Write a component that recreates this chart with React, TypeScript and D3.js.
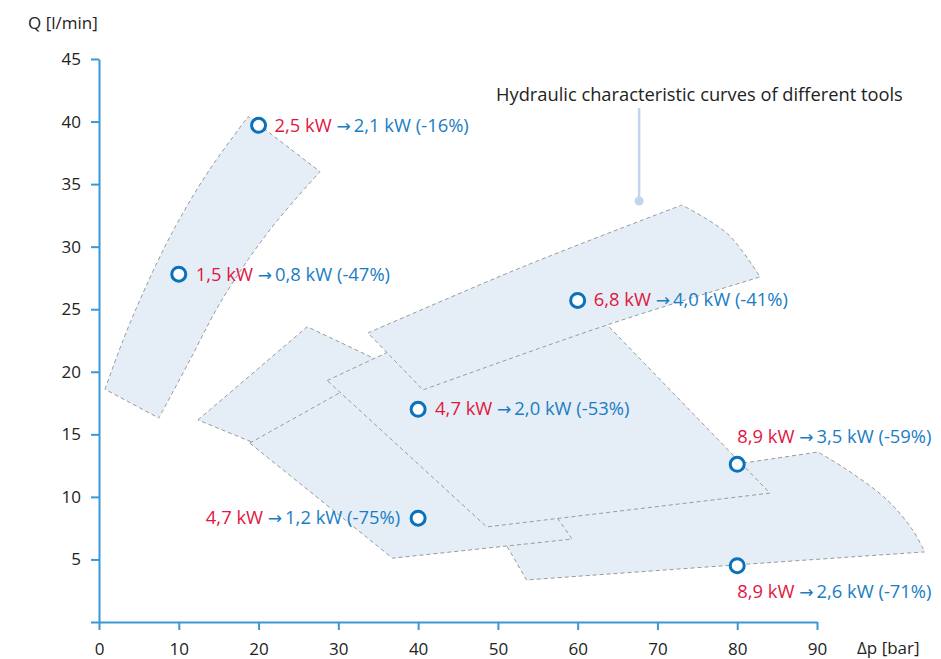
import React, { useEffect, useRef } from 'react';
import * as d3 from 'd3';

type Pt = [number, number];

const xTicks = [0, 10, 20, 30, 40, 50, 60, 70, 80, 90];
const yTicks = [0, 5, 10, 15, 20, 25, 30, 35, 40, 45];

// tool envelopes in [dp bar, Q l/min], each as a list of edges
const toolSmall: Pt[][] = [
  [[0.75, 18.6], [3, 22.5], [5.8, 26.7], [9.4, 31.4], [13.8, 36.1], [18.7, 40.4]],
  [[18.7, 40.4], [27.7, 36.0]],
  [[27.7, 36.0], [21.4, 31.33], [15.4, 25.74], [11.4, 20.94], [7.5, 16.3]],
  [[7.5, 16.3], [0.75, 18.6]],
];
const toolLarge: Pt[][] = [
  [[47.75, 9.75], [79.95, 12.63], [90.1, 13.59]],
  [[90.1, 13.59], [93.8, 12.15], [98.8, 9.75], [102.0, 7.35], [103.5, 5.6]],
  [[103.5, 5.6], [79.8, 4.56], [53.6, 3.36]],
  [[53.6, 3.36], [47.75, 9.75]],
];
const toolB: Pt[][] = [
  [[12.4, 16.15], [26.1, 23.6]],
  [[26.1, 23.6], [37.7, 20.1]],
  [[37.7, 20.1], [27.7, 12.15]],
  [[27.7, 12.15], [12.4, 16.15]],
];
const toolE: Pt[][] = [
  [[18.9, 14.3], [41.9, 22.5]],
  [[41.9, 22.5], [59.3, 6.63]],
  [[59.3, 6.63], [36.8, 5.1]],
  [[36.8, 5.1], [18.9, 14.3]],
];
const toolC: Pt[][] = [
  [[28.6, 19.3], [57.4, 27.9]],
  [[57.4, 27.9], [84.1, 10.3]],
  [[84.1, 10.3], [48.6, 7.6]],
  [[48.6, 7.6], [28.6, 19.3]],
];
const toolD: Pt[][] = [
  [[33.71, 23.1], [53.4, 28.46], [73.07, 33.33]],
  [[73.07, 33.33], [78.83, 31.0], [82.85, 27.58]],
  [[82.85, 27.58], [63.68, 23.74], [40.61, 18.55]],
  [[40.61, 18.55], [33.71, 23.1]],
];
// drawing order matters, later ones cover earlier outlines
const tools = [toolSmall, toolLarge, toolB, toolE, toolC, toolD];

// operating points
const pointDp = [20, 10, 60, 40, 40, 80, 80];
const pointQ = [39.7, 27.8, 25.7, 17.0, 8.3, 12.6, 4.5];
const powerBefore = ['2,5 kW', '1,5 kW', '6,8 kW', '4,7 kW', '4,7 kW', '8,9 kW', '8,9 kW'];
const powerAfter = ['2,1 kW (-16%)', '0,8 kW (-47%)', '4,0 kW (-41%)', '2,0 kW (-53%)', '1,2 kW (-75%)', '3,5 kW (-59%)', '2,6 kW (-71%)'];
// label placement relative to the marker: dx, dy, anchor
const labelPlace: [number, number, string][] = [
  [16, 7, 'start'], [17, 7, 'start'], [16, 6, 'start'], [17, 6, 'start'],
  [-18, 6, 'end'], [0, -21, 'start'], [0, 32, 'start'],
];

const FONT = '"Open Sans", sans-serif';
const RED = '#e0173f';
const BLUE = '#1a7dc2';
const AXIS = '#3b98d6';

export default function App() {
  const svgRef = useRef<SVGSVGElement>(null);

  useEffect(() => {
    if (!svgRef.current) return;
    const svg = d3.select(svgRef.current);
    svg.selectAll('*').remove();

    const x = d3.scaleLinear().domain([0, 90]).range([99, 817]);
    const y = d3.scaleLinear().domain([0, 45]).range([622, 59]);

    // envelopes
    const edgeLine = d3.line<Pt>().x(d => x(d[0])).y(d => y(d[1])).curve(d3.curveCatmullRom);
    const shapePath = (edges: Pt[][]) =>
      edges.map((e, i) => {
        const p = edgeLine(e) || '';
        return i === 0 ? p : 'L' + p.slice(1);
      }).join('') + 'Z';

    svg.append('g').selectAll('path')
      .data(tools)
      .enter().append('path')
      .attr('d', d => shapePath(d))
      .attr('fill', '#e5eef7')
      .attr('stroke', '#9a9a9a')
      .attr('stroke-width', 1)
      .attr('stroke-dasharray', '4 3');

    // axes
    const yAxis = svg.append('g').attr('transform', `translate(${x(0)},0)`)
      .call(d3.axisLeft(y).tickValues(yTicks).tickSize(8).tickSizeOuter(0).tickPadding(10)
        .tickFormat(d => (d === 0 ? '' : String(d))));
    const xAxis = svg.append('g').attr('transform', `translate(0,${y(0)})`)
      .call(d3.axisBottom(x).tickValues(xTicks).tickSize(8).tickSizeOuter(0).tickPadding(13)
        .tickFormat(d => String(d)));
    [yAxis, xAxis].forEach(a => {
      a.select('.domain').attr('stroke', AXIS).attr('stroke-width', 2);
      a.selectAll('.tick line').attr('stroke', AXIS).attr('stroke-width', 2);
      a.selectAll('.tick text').attr('fill', '#222').style('font-family', FONT).style('font-size', '17px');
    });

    svg.append('text').attr('x', 28).attr('y', 29).text('Q [l/min]')
      .attr('fill', '#222').style('font-family', FONT).style('font-size', '17px');
    svg.append('text').attr('x', 857).attr('y', 654).text('\u0394p [bar]')
      .attr('fill', '#222').style('font-family', FONT).style('font-size', '17px');

    // annotation
    const ax = x(67.7);
    svg.append('line').attr('x1', ax).attr('x2', ax).attr('y1', 108).attr('y2', 200)
      .attr('stroke', '#c3d4ee').attr('stroke-width', 2.5);
    svg.append('circle').attr('cx', ax).attr('cy', 201).attr('r', 4.5).attr('fill', '#c3d4ee');
    svg.append('text').attr('x', 496).attr('y', 101)
      .text('Hydraulic characteristic curves of different tools')
      .attr('fill', '#222').style('font-family', FONT).style('font-size', '18.3px');

    // operating points
    const pts = pointDp.map((dp, i) => ({ dp, q: pointQ[i], i }));
    svg.append('g').selectAll('circle')
      .data(pts)
      .enter().append('circle')
      .attr('cx', d => x(d.dp)).attr('cy', d => y(d.q)).attr('r', 7)
      .attr('fill', '#fff').attr('stroke', '#0a72ba').attr('stroke-width', 3);

    const labels = svg.append('g').selectAll('text')
      .data(pts)
      .enter().append('text')
      .attr('x', d => x(d.dp) + labelPlace[d.i][0])
      .attr('y', d => y(d.q) + labelPlace[d.i][1])
      .attr('text-anchor', d => labelPlace[d.i][2])
      .style('font-family', FONT).style('font-size', '18.4px');
    labels.append('tspan').attr('fill', RED).text(d => powerBefore[d.i] + ' ');
    labels.append('tspan').attr('fill', BLUE).style('font-family', '"DejaVu Sans", sans-serif')
      .style('font-size', '17px').text('\u2192');
    labels.append('tspan').attr('fill', BLUE).attr('dx', 3).text(d => powerAfter[d.i]);
  }, []);

  return (
    <svg ref={svgRef} width={941} height={659}
      style={{ position: 'absolute', left: 0, top: 0, background: '#fff' }} />
  );
}
